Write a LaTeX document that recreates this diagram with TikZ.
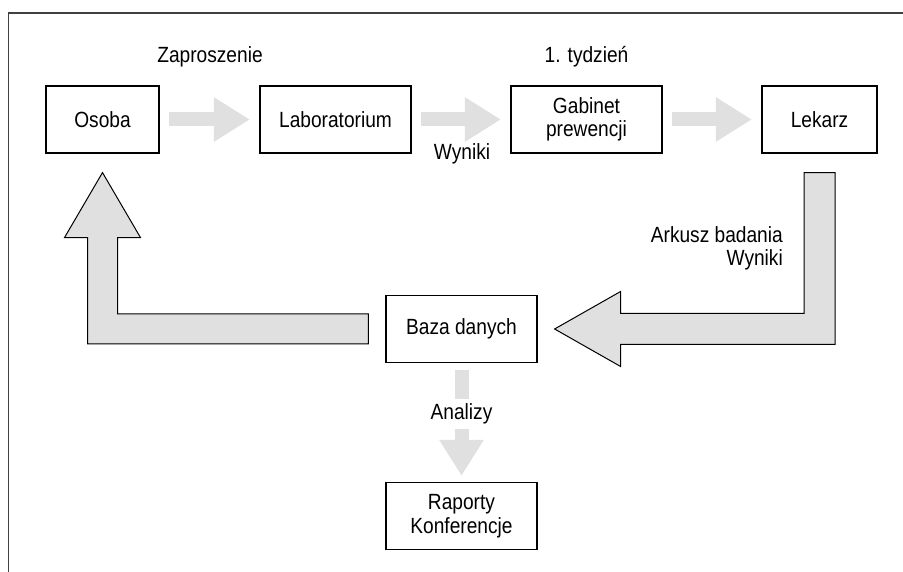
\documentclass[tikz,border=0pt]{standalone}
\usepackage{fontspec}
\setmainfont{Liberation Sans}[FakeStretch=0.87]
\usetikzlibrary{arrows.meta,calc}

\begin{document}
\begin{tikzpicture}
  [x=1pt,y=1pt,font=\fontsize{22}{23.5}\selectfont,
   box/.style={draw,line width=1.2pt,minimum height=67pt,inner sep=0pt,align=center},
   flow/.style={draw=black!12,line width=14pt,-{Triangle[length=36pt,width=42pt]},shorten <=9.5pt,shorten >=9.5pt},
   bigarrow/.style={fill=black!12,draw=black,line width=1pt,line join=miter}]
  \useasboundingbox (0,0) rectangle (903,572);
  \draw[black!75,line width=1.5pt] (903,559) -- (8.5,559) -- (8.5,0);

  \node[box,minimum width=113pt] (osoba) at (102.5,452.5) {Osoba};
  \node[box,minimum width=151pt] (lab) at (335.5,452.5) {Laboratorium};
  \node[box,minimum width=151pt] (gabinet) at (586.5,452.5) {Gabinet\\prewencji};
  \node[box,minimum width=115pt] (lekarz) at (819.5,452.5) {Lekarz};
  \node[box,minimum width=151pt] (baza) at (461.5,243) {Baza danych};
  \node[box,minimum width=151pt] (raporty) at (461.5,56) {Raporty\\Konferencje};

  \node[anchor=base] (zaproszenie) at (210,509) {Zaproszenie};
  \node[anchor=base] (tydzien) at (586.5,509.5) {1. tydzień};
  \node[anchor=base] (wyniki) at (462,412) {Wyniki};
  \node[anchor=north east,align=right,inner sep=0pt] (arkusz) at (783,346) {Arkusz badania\\Wyniki};

  \foreach \from/\to in {osoba/lab,lab/gabinet,gabinet/lekarz}
    \draw[flow] (\from) -- (\to);
  \draw[flow,shorten <=7pt,shorten >=6pt] (baza) -- node[fill=white,pos=0.43,minimum height=30pt,inner sep=1pt] (analizy) {Analizy} (raporty);

  % lekarz -> baza
  \draw[bigarrow] let \p1=(lekarz.south), \p2=(baza.east) in
    (\x1-15.5pt,\y1-19pt) -- (\x1+15.5pt,\y1-19pt) -- (\x1+15.5pt,\y2-15.5pt)
    -- (\x2+83pt,\y2-15.5pt) -- (\x2+83pt,\y2-37.5pt) -- (\x2+17pt,\y2)
    -- (\x2+83pt,\y2+37.5pt) -- (\x2+83pt,\y2+15.5pt) -- (\x1-15.5pt,\y2+15.5pt) -- cycle;
  % baza -> osoba
  \draw[bigarrow] let \p1=(baza.west), \p2=(osoba.south) in
    (\x1-17pt,\y1+15pt) -- (\x1-17pt,\y1-15pt) -- (\x2-15pt,\y1-15pt)
    -- (\x2-15pt,\y2-84pt) -- (\x2-38pt,\y2-84pt) -- (\x2,\y2-19pt)
    -- (\x2+38pt,\y2-84pt) -- (\x2+15pt,\y2-84pt) -- (\x2+15pt,\y1+15pt) -- cycle;

\end{tikzpicture}
\end{document}
